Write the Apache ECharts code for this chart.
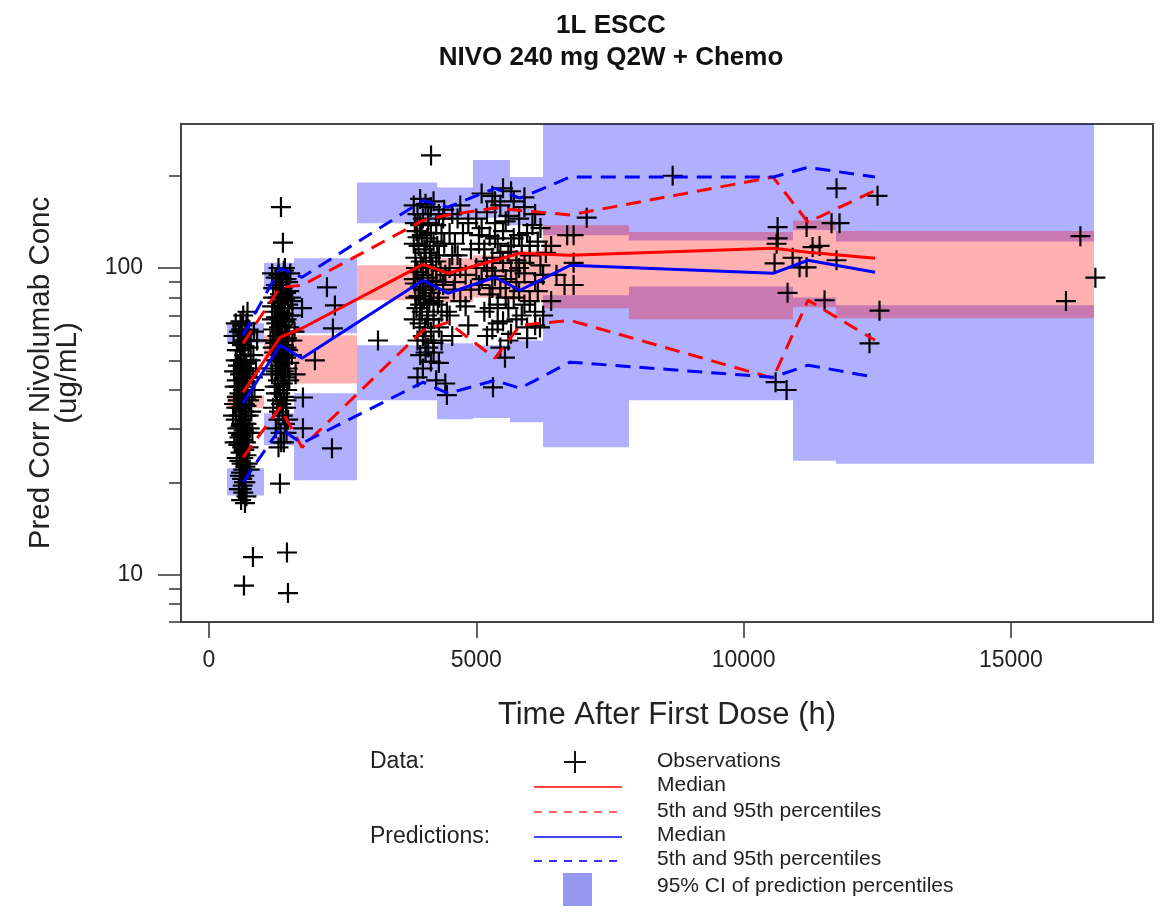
<!DOCTYPE html>
<html><head><meta charset="utf-8">
<script src="https://cdn.jsdelivr.net/npm/echarts@6/dist/echarts.min.js"></script>
<style>html,body{margin:0;padding:0;background:#fff}#c{width:1160px;height:914px}</style>
</head><body><div id="c"></div>
<script>
// ---- bins (time after first dose, h) ----
const binStart = [337, 1029, 1590, 2768, 4265, 4938, 5630, 6248, 7856, 10924, 11728];
const binEnd   = [1029, 1590, 2768, 4265, 4938, 5630, 6248, 7856, 10924, 11728, 16554];
const binTime  = [636, 1328, 1740, 4003, 4471, 5350, 5817, 6753, 10550, 11205, 12458];
// 95% CI of predicted 95th percentile
const upperCILow  = [56.8, 84.6, 61.2, 140, 146, 146, 138, 128, 123, 133, 122];
const upperCIHigh = [66, 104, 107.7, 190, 183, 225, 198, 400, 400, 400, 400];
// 95% CI of predicted median
const medCILow  = [34.9, 50.8, 42, 78.5, 77.3, 80.2, 78.5, 73.9, 68, 74.4, 68.6];
const medCIHigh = [38.4, 60.3, 60.3, 102, 107.7, 110, 114, 138, 131, 143, 132];
// 95% CI of predicted 5th percentile
const lowerCILow  = [18.1, 26.4, 20.3, 37, 32.1, 32.4, 31.4, 26, 37, 23.5, 23];
const lowerCIHigh = [22.2, 33.6, 39, 56, 56.8, 56, 58, 81.5, 87, 80.2, 75.6];
// percentile lines
const obsMedian  = [39.3, 59.4, 63.6, 102.8, 96.1, 106, 111.7, 110, 116, 112.5, 107.7];
const predMedian = [36.2, 56, 50.8, 91.2, 82.7, 93.3, 84.6, 102, 96.1, 106, 96.8];
const obsP95  = [56.8, 86.5, 87.8, 143, 149, 157, 154, 149, 198, 141, 179];
const predP95 = [60.3, 99.8, 93.3, 166, 158, 182, 169, 198, 198, 213, 198];
const obsP5   = [24.1, 35.1, 26, 62.6, 66.5, 50.8, 65, 67.5, 43.7, 78.5, 58.1];
const predP5  = [20, 30, 26.8, 42.4, 39, 43, 40.5, 49.3, 44, 48.2, 44];
// observations [time, conc]
const obsPoints = [
[640,70],[700,66],[600,63],[560,60],[680,58],[620,56],[520,54],[740,55],[660,52],[590,50],[700,49],[540,48],[630,47],[760,46],[580,45],[690,44],[520,43],[650,42],[610,41],[720,40],[570,39],[680,38],[540,37],[630,36],[700,35.5],[600,35],[660,34],[560,33],[740,33],[620,32],[680,31],[590,30.5],[530,30],[650,29.5],[710,29],[600,28.5],[570,28],[640,27.5],[690,27],[550,26.5],[620,26],[660,25.5],[590,25],[700,24.5],[640,24],[570,23.5],[610,23],[680,22.5],[640,22],[600,21.5],[660,21],[620,20.5],[650,20],[630,19.5],[610,19],[640,18.5],[673,17.1],[654,9.2],[822,11.4],[780,50],[820,44],[800,38],[760,30],[480,41],[470,36],[500,32],[480,27],[560,62],[660,44],[620,38],[700,31],[580,35],[640,40],[600,46],[660,50],[580,54],[740,63],[900,58],[880,47],
[460,60],[840,62],[500,50],[830,52],[470,46],[850,40],[520,38],[790,34],[450,33],[810,29],[520,24],[760,22],[560,19],[700,18],[600,17.5],[720,72],[500,66],[780,58],[540,57],[620,65],[680,61],[720,45],[560,41],[750,37],[510,35],[690,33],[600,31],[640,29],[560,27],[740,26],[600,24],[680,20],[580,21],[720,23],[540,29],[670,36],[610,48],[650,58],[590,67],
[1346,158],[1383,121],[1400,98],[1300,95],[1450,92],[1250,88],[1380,86],[1500,84],[1330,82],[1200,80],[1420,79],[1280,77],[1480,76],[1350,74],[1230,72],[1400,71],[1300,69],[1450,68],[1260,66],[1370,65],[1500,64],[1200,63],[1330,62],[1420,61],[1280,60],[1460,59],[1350,58],[1240,57],[1400,56],[1300,55],[1480,54],[1220,53],[1360,52],[1440,51],[1280,50],[1390,49],[1320,48],[1470,47],[1250,46],[1350,45],[1420,44],[1290,43],[1380,42],[1230,41],[1460,40],[1330,39],[1400,38],[1270,37],[1350,36],[1440,35],[1310,34],[1380,33],[1420,31],[1340,29],[1400,27],[1458,11.8],[1477,8.7],[1327,19.8],[1560,70],[1600,62],[1550,52],[1620,45],[1530,80],[1180,68],[1150,58],[1170,47],[1480,90],[1300,100],
[1180,96],[1420,100],[1250,93],[1350,90],[1520,96],[1200,86],[1440,83],[1290,80],[1560,78],[1180,75],[1330,72],[1500,70],[1250,69],[1420,67],[1310,64],[1560,58],[1190,55],[1450,55],[1320,52],[1250,50],[1500,49],[1180,45],[1400,46],[1300,41],[1500,43],[1250,39],[1450,37],[1200,35],[1380,35],[1300,32],[1480,32],[1250,30],[1450,29],[1350,27],[1300,26],[1400,45],[1350,70],[1300,88],[1380,78],
[1740,74],[1981,50],[1757,37.8],[1757,30],[2300,25.8],[2318,63.5],[2206,86.5],[2355,75.5],[3161,58],
[4153,233],[3950,168],[4050,162],[4150,158],[3900,150],[4000,145],[4100,140],[4250,138],[3880,132],[3980,128],[4080,125],[4200,122],[3920,118],[4030,115],[4130,112],[4300,110],[3860,108],[3960,105],[4060,102],[4180,100],[3900,97],[4000,95],[4100,93],[4250,91],[3850,89],[3950,87],[4050,85],[4150,83],[3920,81],[4020,79],[4120,77],[4280,76],[3880,74],[3980,72],[4080,70],[4200,68],[3940,66],[4040,64],[4150,62],[4000,60],[4100,55],[4050,53],[4150,49.5],[4250,43],[4450,38.5],[4350,58],[4400,120],[4420,95],[4380,145],[4300,80],
[3830,160],[4200,165],[4300,150],[3850,140],[4350,130],[3830,120],[4270,118],[3870,100],[4330,98],[3830,92],[4380,88],[3860,80],[4350,72],[3830,68],[4300,64],[3900,58],[4200,57],[3950,52],[4000,47],[3900,44],[4050,112],[3950,138],[4150,130],[4250,105],[4000,85],[4100,68],[4200,78],[3900,126],[4100,150],[4000,100],[4180,90],[3950,76],[4050,58],[4150,108],[4200,53],[4300,49],[4420,42],
[4400,155],[4550,150],[4600,120],[4750,130],[4650,110],[4500,100],[4800,95],[4580,85],[4700,78],[4450,72],[4850,65],[4550,60],[4500,70],[4900,115],
[4500,130],[4650,145],[4700,100],[4600,90],[4800,75],[4550,110],[4850,140],[4700,160],[4900,85],
[5500,182],[5300,172],[5700,165],[5450,160],[5900,158],[5200,152],[5600,148],[5800,145],[5350,140],[6050,138],[5100,135],[5500,132],[5950,130],[5250,127],[5700,125],[6150,122],[5400,120],[5850,118],[5150,115],[5600,113],[6000,110],[5300,108],[5750,106],[5500,104],[6200,102],[5200,100],[5650,98],[5900,96],[5350,94],[5550,92],[6100,90],[5050,88],[5450,86],[5800,84],[5250,82],[5700,80],[6000,78],[5400,76],[5600,74],[5150,72],[5850,70],[5500,67],[6100,65],[5300,63],[5650,61],[5950,59],[5536,51],[5312,40.8],[6191,64],[5000,100],[5050,120],[6250,70],[6300,112],
[5100,175],[5650,178],[5900,170],[5350,165],[6100,150],[5000,145],[5550,142],[6200,135],[5050,128],[5800,128],[5350,125],[6000,118],[5150,105],[5450,112],[5900,104],[6250,95],[5100,92],[5750,90],[5300,86],[6150,84],[5550,80],[5900,76],[5250,74],[6100,72],[5750,68],[5400,66],[5950,64],[5200,60],[5600,58],[5450,55],[5800,100],[5650,118],[5300,98],
[6700,128],[6820,128],[7065,146],[6820,104],[6650,88],[6820,88],[6400,118],[6500,95],[6400,78],[8673,200],
[10636,136],[10636,125],[10617,120],[10916,108],[11178,136],[11290,117],[11421,118],[11047,100.5],[11178,100.5],[10579,103.5],[10822,83],[11514,78.5],[11738,182],[11645,140],[11794,140],[11738,106],[12505,172],[12542,72.6],[12355,56.8],[10598,42.4],[10804,40],
[16030,78],[16300,127],[16580,93]
];
const xTicks = [0, 5000, 10000, 15000];
const yMajorTicks = [10, 100];
const yMinorTicks = [7, 8, 9, 20, 30, 40, 50, 60, 70, 80, 90, 200];

const FONT = '"Liberation Sans", Arial, Helvetica, sans-serif';
const BLUE_BAND = 'rgba(0,0,255,0.31)';
const RED_BAND = 'rgba(255,0,0,0.31)';

function bandRows(lo, hi) { return binStart.map((s, i) => [s, binEnd[i], lo[i], hi[i]]); }
function linePts(vals) { return binTime.map((t, i) => [t, vals[i]]); }
function rectRenderer(color) {
  return function (params, api) {
    const p0 = api.coord([api.value(0), api.value(3)]);
    const p1 = api.coord([api.value(1), api.value(2)]);
    return { type: 'rect', shape: { x: p0[0], y: p0[1], width: p1[0] - p0[0], height: p1[1] - p0[1] },
             style: { fill: color } };
  };
}
const plusPath = 'path://M-0.11,-1 L0.11,-1 L0.11,-0.11 L1,-0.11 L1,0.11 L0.11,0.11 L0.11,1 L-0.11,1 L-0.11,0.11 L-1,0.11 L-1,-0.11 L-0.11,-0.11 Z';

const chart = echarts.init(document.getElementById('c'), null, { renderer: 'canvas' });
const dash = [15, 9];
const option = {
  animation: false,
  backgroundColor: '#fff',
  textStyle: { fontFamily: FONT },
  title: {
    text: '1L ESCC\nNIVO 240 mg Q2W + Chemo', left: 606, textAlign: 'center', top: 5,
    textStyle: { fontFamily: FONT, fontSize: 26, fontWeight: 'bold', color: '#111', lineHeight: 32 }
  },
  grid: { left: 181, top: 124, width: 972, height: 498, show: true, borderColor: '#444', borderWidth: 2, containLabel: false },
  xAxis: {
    type: 'value', min: -524, max: 17658,
    axisLine: { show: false, onZero: false }, splitLine: { show: false },
    axisTick: { show: true, length: 16, customValues: xTicks, lineStyle: { color: '#333', width: 1.5 } },
    axisLabel: { show: true, customValues: xTicks, margin: 27, fontSize: 23, color: '#222', fontFamily: FONT,
                 formatter: v => String(v) },
    name: 'Time After First Dose (h)', nameLocation: 'middle', nameGap: 78,
    nameTextStyle: { fontSize: 31, color: '#222', fontFamily: FONT }
  },
  yAxis: [{
    type: 'log', logBase: 10, min: 7, max: 295,
    axisLine: { show: false, onZero: false }, splitLine: { show: false },
    axisTick: { show: true, length: 23, customValues: yMajorTicks, lineStyle: { color: '#333', width: 1.5 } },
    axisLabel: { show: true, customValues: yMajorTicks, margin: 38, fontSize: 23, color: '#222', fontFamily: FONT },
    name: 'Pred Corr Nivolumab Conc\n(ug/mL)', nameLocation: 'middle', nameGap: 100,
    nameTextStyle: { fontSize: 29.5, lineHeight: 27, color: '#222', fontFamily: FONT }
  }, {
    type: 'log', logBase: 10, min: 7, max: 295, position: 'left', offset: 0,
    axisLine: { show: false, onZero: false }, splitLine: { show: false },
    axisTick: { show: true, length: 12, customValues: yMinorTicks, lineStyle: { color: '#333', width: 1.5 } },
    axisLabel: { show: false }
  }],
  series: [
    { type: 'custom', name: 'upperCI', clip: true, z: 1, renderItem: rectRenderer(BLUE_BAND), encode: { x: [0, 1], y: [2, 3] }, data: bandRows(upperCILow, upperCIHigh) },
    { type: 'custom', name: 'lowerCI', clip: true, z: 1, renderItem: rectRenderer(BLUE_BAND), encode: { x: [0, 1], y: [2, 3] }, data: bandRows(lowerCILow, lowerCIHigh) },
    { type: 'custom', name: 'medianCI', clip: true, z: 2, renderItem: rectRenderer(RED_BAND), encode: { x: [0, 1], y: [2, 3] }, data: bandRows(medCILow, medCIHigh) },
    { type: 'scatter', name: 'Observations', z: 3, symbol: plusPath, symbolSize: 20, itemStyle: { color: '#000', opacity: 1 }, data: obsPoints },
    { type: 'line', name: 'obsMedian', z: 4, symbol: 'none', lineStyle: { color: '#ff0000', width: 3 }, data: linePts(obsMedian) },
    { type: 'line', name: 'obsP95', z: 4, symbol: 'none', lineStyle: { color: '#ff0000', width: 3, type: dash }, data: linePts(obsP95) },
    { type: 'line', name: 'obsP5', z: 4, symbol: 'none', lineStyle: { color: '#ff0000', width: 3, type: dash }, data: linePts(obsP5) },
    { type: 'line', name: 'predMedian', z: 5, symbol: 'none', lineStyle: { color: '#0000ff', width: 3 }, data: linePts(predMedian) },
    { type: 'line', name: 'predP95', z: 5, symbol: 'none', lineStyle: { color: '#0000ff', width: 3, type: dash }, data: linePts(predP95) },
    { type: 'line', name: 'predP5', z: 5, symbol: 'none', lineStyle: { color: '#0000ff', width: 3, type: dash }, data: linePts(predP5) }
  ],
  graphic: [
    { type: 'text', left: 370, top: 750, style: { text: 'Data:', font: '23px ' + FONT, fill: '#222' } },
    { type: 'text', left: 370, top: 825, style: { text: 'Predictions:', font: '23px ' + FONT, fill: '#222' } },
    { type: 'line', shape: { x1: 575, y1: 751, x2: 575, y2: 773 }, style: { stroke: '#111', lineWidth: 2 } },
    { type: 'line', shape: { x1: 564, y1: 762, x2: 586, y2: 762 }, style: { stroke: '#111', lineWidth: 2 } },
    { type: 'line', shape: { x1: 534, y1: 787, x2: 622, y2: 787 }, style: { stroke: '#f44', lineWidth: 2 } },
    { type: 'line', shape: { x1: 534, y1: 812, x2: 622, y2: 812 }, style: { stroke: '#f66', lineWidth: 2, lineDash: [8, 7] } },
    { type: 'line', shape: { x1: 534, y1: 837, x2: 622, y2: 837 }, style: { stroke: '#44f', lineWidth: 2 } },
    { type: 'line', shape: { x1: 534, y1: 861, x2: 622, y2: 861 }, style: { stroke: '#33f', lineWidth: 2, lineDash: [8, 7] } },
    { type: 'rect', shape: { x: 563, y: 873, width: 29, height: 33 }, style: { fill: '#9898f3' } },
    { type: 'text', left: 657, top: 751, style: { text: 'Observations', font: '21px ' + FONT, fill: '#222' } },
    { type: 'text', left: 657, top: 775, style: { text: 'Median', font: '21px ' + FONT, fill: '#222' } },
    { type: 'text', left: 657, top: 801, style: { text: '5th and 95th percentiles', font: '21px ' + FONT, fill: '#222' } },
    { type: 'text', left: 657, top: 825, style: { text: 'Median', font: '21px ' + FONT, fill: '#222' } },
    { type: 'text', left: 657, top: 849, style: { text: '5th and 95th percentiles', font: '21px ' + FONT, fill: '#222' } },
    { type: 'text', left: 657, top: 876, style: { text: '95% CI of prediction percentiles', font: '21px ' + FONT, fill: '#222' } }
  ]
};
chart.setOption(option);
</script>
</body></html>
